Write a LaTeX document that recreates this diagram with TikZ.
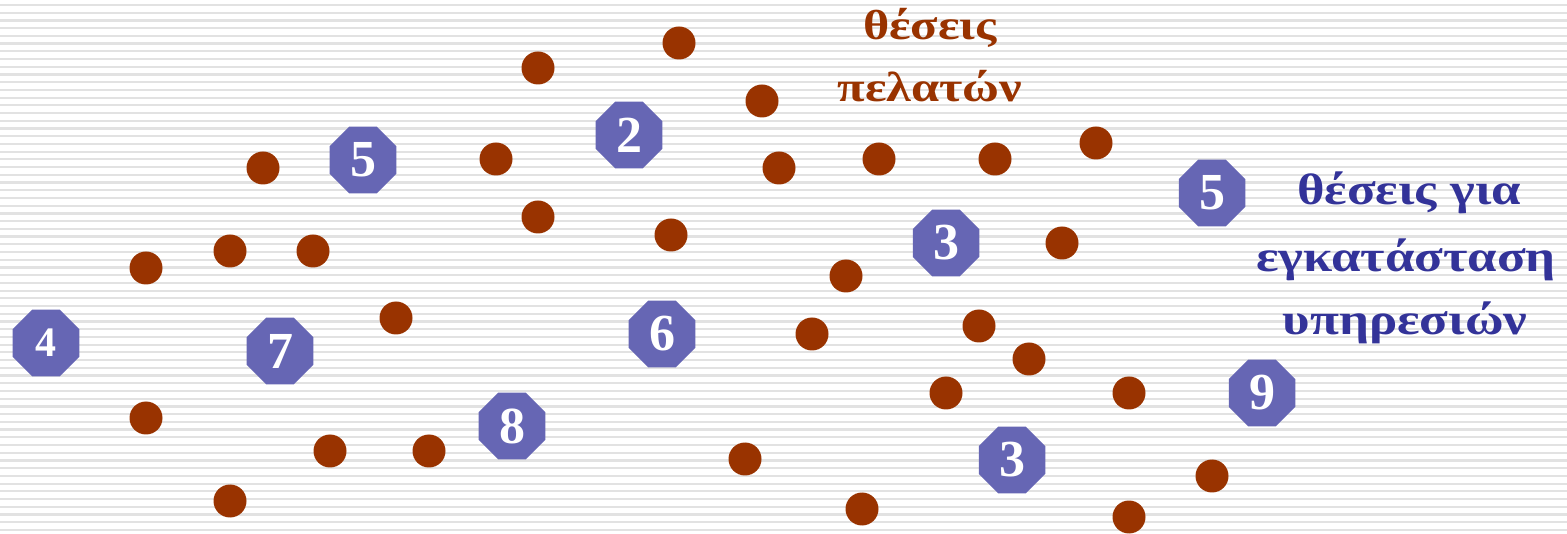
\documentclass[tikz,border=0pt]{standalone}
\usepackage{fontspec}
\setmainfont{Liberation Serif}
\newfontfamily\widegreek[FakeStretch=1.2]{Liberation Serif}
\usetikzlibrary{shapes.geometric}
\definecolor{dotbrown}{RGB}{153,51,0}
\definecolor{octblue}{RGB}{102,102,180}
\definecolor{txtblue}{RGB}{51,51,153}
\definecolor{stripegray}{RGB}{226,226,226}
\tikzset{
  dotnode/.style={circle,fill=dotbrown,minimum size=33,inner sep=0pt},
  octnode/.style={regular polygon,regular polygon sides=8,fill=octblue,minimum size=72,inner sep=0pt,text=white,font=\bfseries\fontsize{52}{52}\selectfont},
  brownlbl/.style={anchor=base,text=dotbrown,inner sep=0pt,font=\widegreek\bfseries\fontsize{42}{42}\selectfont},
  bluelbl/.style={anchor=base,text=txtblue,inner sep=0pt,font=\widegreek\bfseries\fontsize{44}{44}\selectfont},
  stripeline/.style={draw=stripegray,line width=2.2pt}
}
\begin{document}
\begin{tikzpicture}[x=1pt,y=-1pt]
\useasboundingbox (0,0) rectangle (1567,534);
\fill[white] (0,0) rectangle (1567,534);
\foreach \i in {0,...,68} \draw[stripeline] (0,5+7.72*\i) -- (1567,5+7.72*\i);
% customer dots
\node[dotnode] (c1) at (679,43) {};
\node[dotnode] (c2) at (538,68) {};
\node[dotnode] (c3) at (762,101) {};
\node[dotnode] (c4) at (263,168) {};
\node[dotnode] (c5) at (496,159) {};
\node[dotnode] (c6) at (779,168) {};
\node[dotnode] (c7) at (879,159) {};
\node[dotnode] (c8) at (995,159) {};
\node[dotnode] (c9) at (1096,143) {};
\node[dotnode] (c10) at (538,217) {};
\node[dotnode] (c11) at (671,235) {};
\node[dotnode] (c12) at (230,251) {};
\node[dotnode] (c13) at (313,251) {};
\node[dotnode] (c14) at (146,268) {};
\node[dotnode] (c15) at (1062,243) {};
\node[dotnode] (c16) at (846,276) {};
\node[dotnode] (c17) at (396,318) {};
\node[dotnode] (c18) at (812,334) {};
\node[dotnode] (c19) at (979,326) {};
\node[dotnode] (c20) at (1029,359) {};
\node[dotnode] (c21) at (946,393) {};
\node[dotnode] (c22) at (1129,393) {};
\node[dotnode] (c23) at (146,418) {};
\node[dotnode] (c24) at (330,451) {};
\node[dotnode] (c25) at (429,451) {};
\node[dotnode] (c26) at (745,459) {};
\node[dotnode] (c27) at (1212,476) {};
\node[dotnode] (c28) at (230,501) {};
\node[dotnode] (c29) at (862,509) {};
\node[dotnode] (c30) at (1129,517) {};
% service sites
\node[octnode] (s1) at (363,160) {5};
\node[octnode] (s2) at (629,135) {2};
\node[octnode] (s3) at (1212,193) {5};
\node[octnode] (s4) at (946,243) {3};
\node[octnode,font=\bfseries\fontsize{42}{42}\selectfont] (s5) at (46,343) {4};
\node[octnode] (s6) at (280,351) {7};
\node[octnode] (s7) at (662,334) {6};
\node[octnode] (s8) at (512,426) {8};
\node[octnode] (s9) at (1262,393) {9};
\node[octnode] (s10) at (1012,460) {3};
% labels
\node[brownlbl] (l1) at (930,40) {θέσεις};
\node[brownlbl] (l2) at (930,102) {πελατών};
\node[bluelbl] (l3) at (1409,205) {θέσεις για};
\node[bluelbl] (l4) at (1406,272) {εγκατάσταση};
\node[bluelbl] (l5) at (1405,335) {υπηρεσιών};
\end{tikzpicture}
\end{document}
